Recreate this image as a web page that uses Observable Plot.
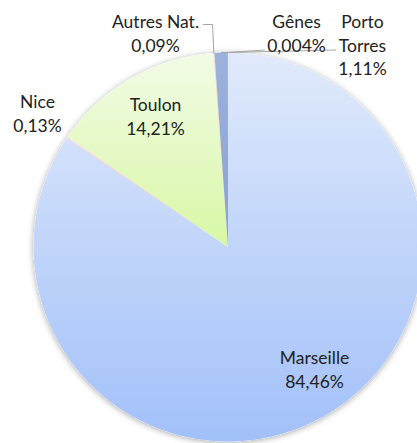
<!DOCTYPE html>
<html><head><meta charset="utf-8">
<script src="https://cdn.jsdelivr.net/npm/d3@7"></script>
<script src="https://cdn.jsdelivr.net/npm/@observablehq/plot@0.6"></script>
<style>html,body{margin:0;padding:0;background:#fff}</style>
</head><body><div id="chart"></div>
<script>
// ---- data ----
const ports = ["Marseille", "Nice", "Toulon", "Autres Nat.", "Porto Torres", "Gênes"];
const shares = [84.46, 0.13, 14.21, 0.09, 1.11, 0.004];
const shareLabels = ["84,46%", "0,13%", "14,21%", "0,09%", "1,11%", "0,004%"];
const labelNames = ["Marseille", "Nice", "Toulon", "Autres Nat.", "Porto\nTorres", "Gênes"];

// ---- layout / style ----
const W = 417, H = 443, cx = 227.5, cy = 246.5, R = 194.5;
const gradTop = ["#e0eafb", "#f9dada", "#f2fbe6", "#fbe3c6", "#9cb2dc", "#cdb9e2"];
const gradBottom = ["#a2c0f9", "#efb2b2", "#d8f8a5", "#f5c99a", "#8aa1d2", "#b39bd4"];
const labelAt = [[314, 367.5], [37, 111.5], [155, 114.5], [155, 31.5], [362, 43.5], [296, 31.5]];
const leaderVia = [null, null, null, [[212, 24], [203, 24]], [[335, 49.5]], [[264, 49.5]]];

const arcs = d3.pie().sort(null).value(d => d).startAngle(0).endAngle(2 * Math.PI)(shares);
const pt = (t, r = R) => ({x: cx + r * Math.sin(t), y: cy - r * Math.cos(t)});

const slicePts = arcs.flatMap((a, i) => {
  const n = Math.max(2, Math.ceil((a.endAngle - a.startAngle) / 0.005));
  const pts = [{i, x: cx, y: cy}];
  for (let k = 0; k <= n; k++) pts.push({i, ...pt(a.startAngle + (a.endAngle - a.startAngle) * k / n)});
  return pts;
});
const circlePts = d3.range(0, 721).map(k => pt(k / 720 * 2 * Math.PI));

const leaderPts = arcs.flatMap((a, i) => {
  if (!leaderVia[i]) return [];
  const m = (a.startAngle + a.endAngle) / 2;
  return [{i, ...pt(m)}, ...leaderVia[i].map(([x, y]) => ({i, x, y}))];
});

const labels = ports.map((p, i) => ({
  x: labelAt[i][0], y: labelAt[i][1], text: labelNames[i] + "\n" + shareLabels[i]
}));

const chart = Plot.plot({
  width: W, height: H, margin: 0,
  style: {background: "#fff", fontFamily: "Lato, sans-serif"},
  x: {domain: [0, W], range: [0, W], axis: null},
  y: {domain: [0, H], range: [0, H], axis: null},
  marks: [
    Plot.line(circlePts, {x: "x", y: "y", fill: "#fefefe", stroke: "none", curve: "linear-closed"}),
    ...ports.map((p, i) => Plot.line(slicePts.filter(d => d.i === i), {
      x: "x", y: "y", fill: gradTop[i], stroke: "none", curve: "linear-closed"
    })),
    Plot.line(leaderPts, {x: "x", y: "y", z: "i", stroke: "#a6a6a6", strokeWidth: 1, curve: "linear"}),
    Plot.text(labels, {x: "x", y: "y", text: "text", fontSize: 17.5, lineHeight: 1.36, fill: "#222", fontFamily: "Lato, sans-serif"})
  ]
});

const svg = d3.select(chart);
const defs = svg.insert("defs", ":first-child");
ports.forEach((p, i) => {
  const g = defs.append("linearGradient").attr("id", `g${i}`).attr("x1", 0).attr("y1", 0).attr("x2", 0).attr("y2", 1);
  g.append("stop").attr("offset", "0%").attr("stop-color", gradTop[i]);
  g.append("stop").attr("offset", "100%").attr("stop-color", gradBottom[i]);
  svg.selectAll(`[fill="${gradTop[i]}"]`).attr("fill", `url(#g${i})`);
});
const f = defs.append("filter").attr("id", "shadow").attr("x", "-10%").attr("y", "-10%").attr("width", "120%").attr("height", "120%");
f.append("feDropShadow").attr("dx", 0).attr("dy", 1).attr("stdDeviation", 3).attr("flood-color", "#000").attr("flood-opacity", 0.35);
svg.selectAll('[fill="#fefefe"]').attr("filter", "url(#shadow)");

document.getElementById("chart").appendChild(chart);
</script>
</body></html>
